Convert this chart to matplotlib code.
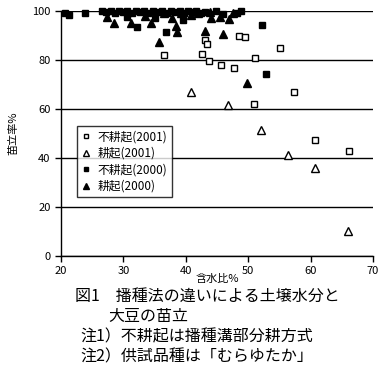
import matplotlib
matplotlib.use('Agg')
import matplotlib.pyplot as plt

plt.rcParams['font.family'] = ['Noto Sans CJK JP', 'DejaVu Sans']

# 不耕起(2001) - open squares
nt01_x = [36.5, 43.1, 43.4, 42.6, 43.7, 45.6, 47.7, 48.5, 49.5, 51.1, 55.1, 57.3, 50.9, 60.7, 66.2]
nt01_y = [82.0, 88.2, 86.5, 82.4, 79.6, 78.0, 76.7, 89.8, 89.4, 80.8, 84.9, 66.9, 62.0, 47.3, 42.9]

# 耕起(2001) - open triangles
t01_x = [40.8, 46.8, 52.1, 56.4, 60.7, 66.0]
t01_y = [66.9, 61.6, 51.4, 41.2, 35.9, 10.2]

# 不耕起(2000) - filled squares
nt00_x = [20.6, 21.3, 23.8, 26.5, 27.2, 28.0, 28.6, 29.3, 30.0, 30.6, 31.3, 32.0, 32.6,
          33.3, 34.0, 34.8, 35.5, 36.2, 37.0, 37.6, 38.3, 39.0, 39.7, 40.4, 41.0, 41.7,
          42.4, 43.0, 44.8, 46.0, 48.2, 48.8, 32.2, 36.8, 30.5, 35.0, 39.5, 52.2, 52.9]
nt00_y = [99.2, 98.4, 99.2, 100.0, 99.6, 100.0, 99.2, 100.0, 99.6, 100.0, 99.2, 100.0, 99.6,
          100.0, 99.2, 100.0, 99.6, 100.0, 99.2, 100.0, 99.6, 100.0, 99.2, 100.0, 99.6, 100.0,
          99.2, 99.6, 100.0, 98.8, 99.2, 100.0, 93.5, 91.4, 97.5, 97.0, 96.5, 94.3, 74.3]

# 耕起(2000) - filled triangles
t00_x = [27.4, 28.5, 31.2, 34.4, 35.7, 37.8, 38.4, 38.6, 43.1, 44.0, 45.5, 46.9, 46.0,
         39.2, 40.8, 42.0, 43.8, 47.5, 33.5, 36.5, 49.8]
t00_y = [97.6, 95.0, 95.0, 95.0, 87.3, 97.0, 94.0, 91.4, 91.8, 97.0, 97.6, 96.7, 90.6,
         99.0, 98.5, 99.0, 99.5, 99.0, 98.0, 99.0, 70.6]

fig = plt.figure(figsize=(3.88, 3.73), dpi=100)
ax = fig.add_axes([61/388, 1-256/373, 312/388, 245/373])

ax.set_xlim(20, 70)
ax.set_ylim(0, 100)
ax.set_xticks([20, 30, 40, 50, 60, 70])
ax.set_yticks([0, 20, 40, 60, 80, 100])
ax.yaxis.grid(True, color='black', lw=1)
ax.set_axisbelow(True)
for s in ['top', 'right']:
    ax.spines[s].set_visible(False)
ax.spines['left'].set_linewidth(1)
ax.spines['bottom'].set_linewidth(1)
ax.tick_params(direction='out', length=4, width=1, labelsize=8)

ax.plot(nt01_x, nt01_y, 's', mfc='white', mec='black', ms=4.5, mew=1, ls='none',
        clip_on=False, label='不耕起(2001)')
ax.plot(t01_x, t01_y, '^', mfc='white', mec='black', ms=5.5, mew=1, ls='none',
        clip_on=False, label='耕起(2001)')
ax.plot(nt00_x, nt00_y, 's', color='black', ms=4.5, ls='none',
        clip_on=False, label='不耕起(2000)')
ax.plot(t00_x, t00_y, '^', color='black', ms=5.5, ls='none',
        clip_on=False, label='耕起(2000)')

leg = ax.legend(loc='upper left', bbox_to_anchor=(16/312, 1-115/245), fontsize=8.5,
                frameon=True, fancybox=False, edgecolor='black', handlelength=0.8,
                handletextpad=0.6, borderpad=0.35, labelspacing=0.3, markerscale=0.7,
                borderaxespad=0)
leg.get_frame().set_linewidth(1)

ax.set_ylabel('苗立率%', fontsize=8, labelpad=10)
ax.set_xlabel('含水比%', fontsize=8, labelpad=-2)

fig.text(75/388, 1-296/373, '図1　播種法の違いによる土壌水分と', fontsize=11.5, va='center')
fig.text(108/388, 1-316/373, '大豆の苗立', fontsize=11.5, va='center')
fig.text(80/388, 1-337/373, '注1）不耕起は播種溝部分耕方式', fontsize=11.5, va='center')
fig.text(80/388, 1-357/373, '注2）供試品種は「むらゆたか」', fontsize=11.5, va='center')

fig.savefig('out.png', dpi=100)
